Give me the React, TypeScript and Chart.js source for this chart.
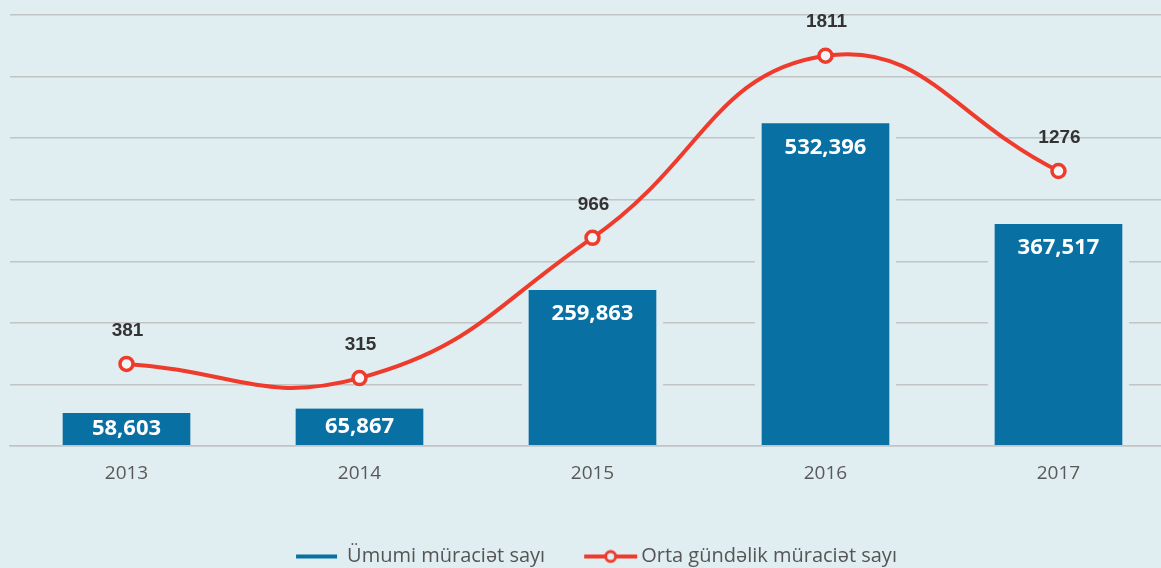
import React, { useEffect, useRef } from 'react';
import { Chart, registerables } from 'chart.js';

Chart.register(...registerables);

const categories = ['2013', '2014', '2015', '2016', '2017'];
const totalRequests = [58603, 65867, 259863, 532396, 367517];
const dailyAverage = [381, 315, 966, 1811, 1276];
const seriesLabels = ['Ümumi müraciət sayı', 'Orta gündəlik müraciət sayı'];
const gridSteps = [0, 1, 2, 3, 4, 5, 6, 7];

const BG = '#e0edf1';
const BLUE = '#0870a3';
const RED = '#ef3b2c';
const GRID = '#c2c4c6';

const LEGEND_FONT = 20;
const LEGEND_BOX = 73;

function legendIcon(kind: 'bar' | 'line'): HTMLCanvasElement {
  const w = LEGEND_BOX + LEGEND_FONT;
  const c = document.createElement('canvas');
  c.width = w;
  c.height = 20;
  const ctx = c.getContext('2d')!;
  if (kind === 'bar') {
    ctx.strokeStyle = BLUE;
    ctx.lineWidth = 4;
    ctx.beginPath();
    ctx.moveTo(w - 51, 10);
    ctx.lineTo(w - 10, 10);
    ctx.stroke();
  } else {
    ctx.strokeStyle = RED;
    ctx.lineWidth = 4;
    ctx.beginPath();
    ctx.moveTo(w - 57, 10);
    ctx.lineTo(w - 4, 10);
    ctx.stroke();
    ctx.beginPath();
    ctx.arc(w - 30.5, 10, 5, 0, Math.PI * 2);
    ctx.fillStyle = BG;
    ctx.fill();
    ctx.lineWidth = 3;
    ctx.stroke();
  }
  return c;
}

const valueLabels = {
  id: 'valueLabels',
  afterDatasetsDraw(chart: any) {
    const { ctx } = chart;
    ctx.save();
    ctx.textAlign = 'center';
    ctx.textBaseline = 'middle';
    const bars = chart.getDatasetMeta(0).data;
    ctx.font = "bold 22px 'Open Sans', sans-serif";
    ctx.fillStyle = '#ffffff';
    bars.forEach((bar: any, i: number) => {
      const { x, y, base } = bar.getProps(['x', 'y', 'base'], true);
      const h = base - 4 - y;
      ctx.fillText(totalRequests[i].toLocaleString('en-US'), x, y + Math.min(24, h / 2));
    });
    const pts = chart.getDatasetMeta(1).data;
    ctx.font = "bold 19px 'Liberation Sans', sans-serif";
    ctx.fillStyle = '#333333';
    pts.forEach((p: any, i: number) => {
      ctx.fillText(String(dailyAverage[i]), p.x + 1, p.y - 33.5);
    });
    ctx.restore();
  },
};

export default function App() {
  const ref = useRef<HTMLCanvasElement | null>(null);

  useEffect(() => {
    if (!ref.current) return;
    const iconBar = legendIcon('bar');
    const iconLine = legendIcon('line');
    const chart = new Chart(ref.current, {
      type: 'bar',
      data: {
        datasets: [
          {
            type: 'bar',
            label: seriesLabels[0],
            data: categories.map((_, i) => ({ x: i, y: totalRequests[i] })),
            backgroundColor: BLUE,
            borderColor: BG,
            borderWidth: { left: 7, right: 7, top: 0, bottom: 4 },
            borderSkipped: false,
            barThickness: 141,
            yAxisID: 'y',
            order: 2,
          } as any,
          {
            type: 'line',
            label: seriesLabels[1],
            data: categories.map((_, i) => ({ x: i, y: dailyAverage[i] })),
            borderColor: RED,
            borderWidth: 4,
            tension: 0.45,
            pointRadius: 6.5,
            pointBorderWidth: 3.5,
            pointBackgroundColor: '#f2f6f8',
            pointBorderColor: RED,
            yAxisID: 'y1',
            order: 1,
          } as any,
        ],
      },
      options: {
        responsive: false,
        animation: false,
        events: [],
        layout: { autoPadding: false, padding: { top: 15, left: 0, right: 0, bottom: 0 } },
        plugins: {
          tooltip: { enabled: false },
          legend: {
            position: 'bottom',
            maxHeight: 34.5,
            labels: {
              usePointStyle: true,
              pointStyleWidth: LEGEND_BOX,
              boxHeight: LEGEND_FONT,
              padding: 13,
              font: { family: "'Open Sans', sans-serif", size: LEGEND_FONT },
              color: '#555555',
              generateLabels: () => [
                {
                  text: seriesLabels[0],
                  pointStyle: iconBar,
                  fillStyle: BLUE,
                  strokeStyle: BLUE,
                  lineWidth: 0,
                  hidden: false,
                  datasetIndex: 0,
                  fontColor: '#555555',
                },
                {
                  text: seriesLabels[1],
                  pointStyle: iconLine,
                  fillStyle: RED,
                  strokeStyle: RED,
                  lineWidth: 0,
                  hidden: false,
                  datasetIndex: 1,
                  fontColor: '#555555',
                },
              ] as any,
            },
          } as any,
        },
        scales: {
          x: {
            type: 'linear',
            offset: false,
            min: -0.5,
            max: 4.44,
            grid: { display: false, drawTicks: false, offset: false },
            border: { display: true, color: GRID, width: 1.5, z: 1 } as any,
            afterBuildTicks: (s: any) => {
              s.ticks = categories.map((_, i) => ({ value: i }));
            },
            afterFit: (s: any) => {
              s.height = 87.5;
            },
            ticks: {
              callback: (v: any) => categories[v as number],
              font: { family: "'Open Sans', sans-serif", size: 19 },
              color: '#595959',
              padding: 16,
              autoSkip: false,
              maxRotation: 0,
            },
          },
          y: { display: false, min: 4640, max: 709460 },
          y1: { display: false, min: 0, max: 2000 },
          yGrid: {
            type: 'linear',
            position: 'left',
            min: 0,
            max: 7,
            afterBuildTicks: (s: any) => {
              s.ticks = gridSteps.map((v) => ({ value: v }));
            },
            afterFit: (s: any) => {
              s.width = 10;
            },
            ticks: { display: false },
            grid: { color: GRID, lineWidth: 1.5, drawTicks: false },
            border: { display: false },
          },
        },
      } as any,
      plugins: [valueLabels],
    });
    return () => chart.destroy();
  }, []);

  return (
    <div style={{ width: 1161, height: 568, background: BG }}>
      <style>{'body{margin:0;}'}</style>
      <canvas ref={ref} width={1161} height={568} style={{ display: 'block' }} />
    </div>
  );
}
